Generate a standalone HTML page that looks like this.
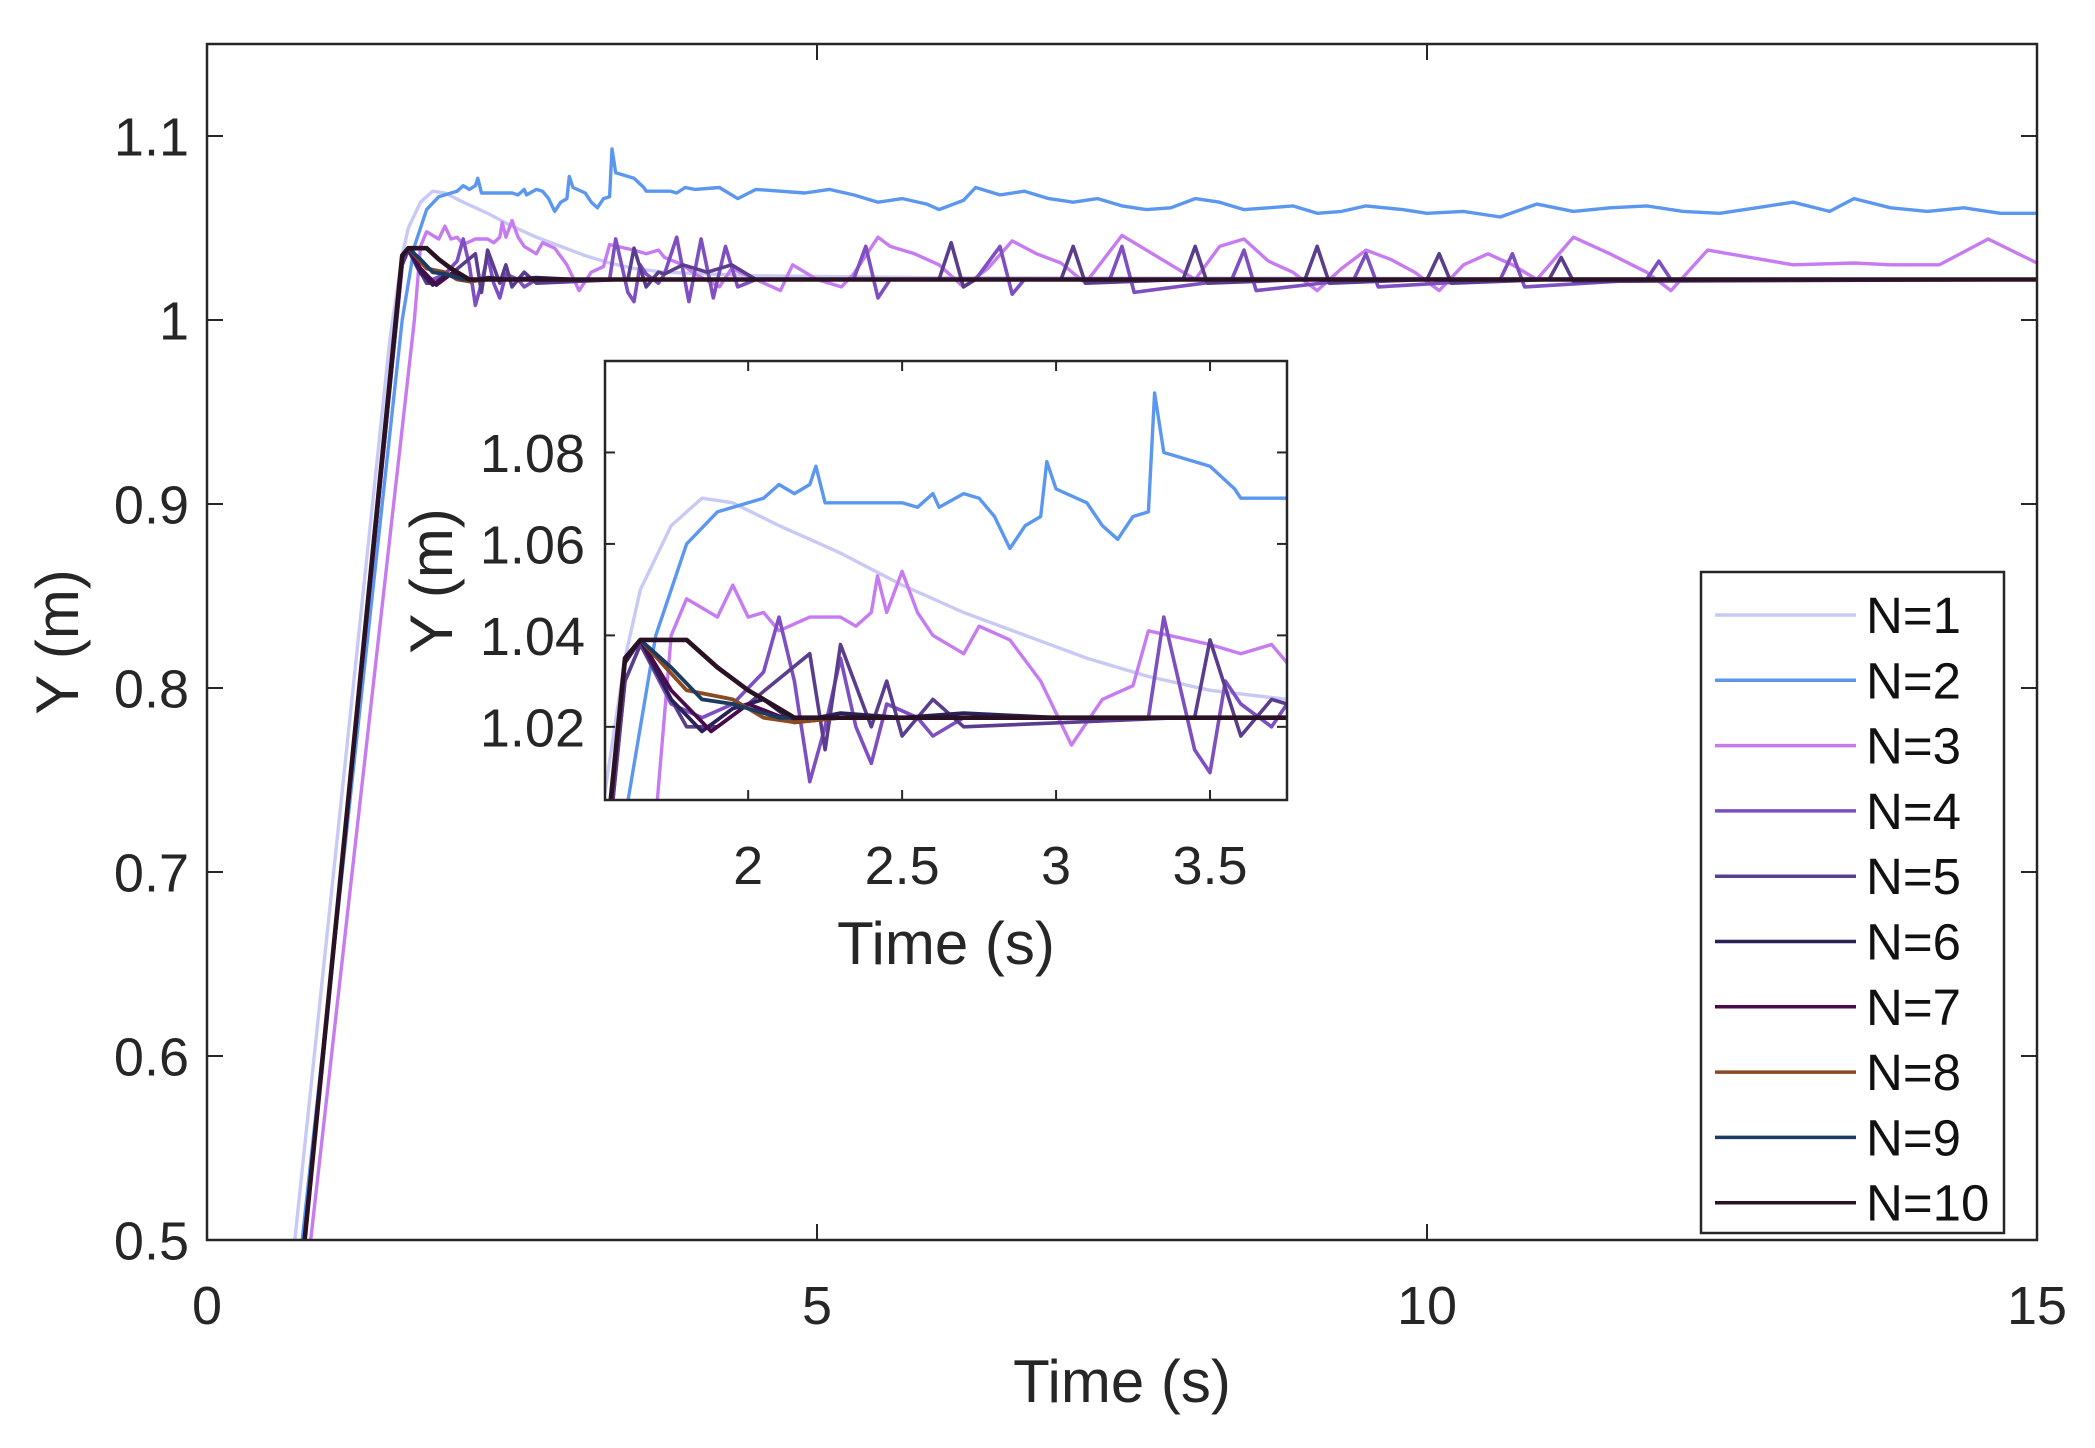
<!DOCTYPE html>
<html><head><meta charset="utf-8"><style>
html,body{margin:0;padding:0;background:#fff;overflow:hidden;width:2095px;height:1448px;}
svg{display:block;font-family:"Liberation Sans",sans-serif;}
</style></head><body>
<svg id="chart" width="2095" height="1448" viewBox="0 0 2095 1448" xmlns="http://www.w3.org/2000/svg">
<defs>
<clipPath id="mainClip"><rect x="207" y="44" width="1830" height="1196"/></clipPath>
<clipPath id="insetClip"><rect x="605" y="361" width="682" height="439"/></clipPath>
</defs>
<rect width="2095" height="1448" fill="#fff"/>
<g id="mainLines" clip-path="url(#mainClip)"></g>
<rect x="207" y="44" width="1830" height="1196" fill="none" stroke="#262626" stroke-width="2.5"/>
<g id="mainTicks"></g>
<text x="1122" y="1402" font-size="60" text-anchor="middle" fill="#262626">Time (s)</text>
<text transform="translate(78,642) rotate(-90)" font-size="60" text-anchor="middle" fill="#262626">Y (m)</text>
<rect x="605" y="361" width="682" height="439" fill="#fff"/>
<g id="insetLines" clip-path="url(#insetClip)"></g>
<rect x="605" y="361" width="682" height="439" fill="none" stroke="#262626" stroke-width="2.5"/>
<g id="insetTicks"></g>
<text x="946" y="964" font-size="60" text-anchor="middle" fill="#262626">Time (s)</text>
<text transform="translate(452,581) rotate(-90)" font-size="60" text-anchor="middle" fill="#262626">Y (m)</text>
<g id="legend">
<rect x="1701" y="572" width="303" height="661" fill="#fff" stroke="#262626" stroke-width="2.5"/>
</g>
</svg>
<script>
const seriesNames = ["N=1","N=2","N=3","N=4","N=5","N=6","N=7","N=8","N=9","N=10"];
const seriesColors = ["#c9c9f5","#5b97ef","#c67cf0","#7e4fc0","#5a3d8c","#2b2159","#4b0b4b","#8a4b22","#1b3b62","#2a1224"];
const seriesWidths = [3.4,3.4,3.4,3.6,3.6,3.8,3.8,3.8,3.8,4.6];
const mainXTicks = [0,5,10,15];
const mainXTickLabels = ["0","5","10","15"];
const mainYTicks = [0.5,0.6,0.7,0.8,0.9,1.0,1.1];
const mainYTickLabels = ["0.5","0.6","0.7","0.8","0.9","1","1.1"];
const insetXTicks = [2,2.5,3,3.5];
const insetXTickLabels = ["2","2.5","3","3.5"];
const insetYTicks = [1.02,1.04,1.06,1.08];
const insetYTickLabels = ["1.02","1.04","1.06","1.08"];

const t1 = [0.72,1.5,1.6,1.65,1.75,1.85,1.95,2.1,2.3,2.5,2.7,2.9,3.1,3.3,3.5,3.75,4.5,6,15];
const y1 = [0.5,0.99,1.035,1.05,1.064,1.07,1.069,1.064,1.058,1.051,1.045,1.04,1.035,1.031,1.028,1.026,1.024,1.023,1.022];
const t2 = [0.78,1.6,1.7,1.8,1.9,2.0,2.05,2.1,2.15,2.2,2.22,2.25,2.35,2.5,2.55,2.6,2.62,2.7,2.75,2.8,2.85,2.9,2.95,2.97,3.0,3.1,3.15,3.2,3.25,3.3,3.32,3.35,3.5,3.58,3.6,3.8,3.85,3.92,4.0,4.2,4.35,4.5,4.7,4.9,5.1,5.3,5.5,5.7,5.9,6.0,6.2,6.3,6.5,6.7,6.9,7.1,7.3,7.5,7.7,7.9,8.1,8.3,8.5,8.7,8.9,9.1,9.3,9.5,9.8,10.0,10.3,10.6,10.9,11.2,11.5,11.8,12.1,12.4,12.7,13.0,13.3,13.5,13.8,14.1,14.4,14.7,15.0];
const y2 = [0.5,1.0,1.04,1.06,1.067,1.069,1.07,1.073,1.071,1.073,1.077,1.069,1.069,1.069,1.068,1.071,1.068,1.071,1.07,1.066,1.059,1.064,1.066,1.078,1.072,1.069,1.064,1.061,1.066,1.067,1.093,1.08,1.077,1.072,1.07,1.07,1.069,1.072,1.071,1.072,1.066,1.071,1.07,1.069,1.071,1.068,1.064,1.066,1.063,1.06,1.065,1.072,1.068,1.07,1.066,1.064,1.066,1.062,1.06,1.061,1.066,1.064,1.06,1.061,1.062,1.058,1.059,1.062,1.06,1.058,1.059,1.056,1.063,1.059,1.061,1.062,1.059,1.058,1.061,1.064,1.059,1.066,1.061,1.059,1.061,1.058,1.058];
const t3 = [0.85,1.7,1.75,1.8,1.85,1.9,1.95,2.0,2.05,2.1,2.2,2.3,2.35,2.4,2.42,2.45,2.5,2.55,2.6,2.7,2.75,2.85,2.95,3.05,3.15,3.25,3.3,3.5,3.6,3.7,3.75,3.9,4.0,4.2,4.3,4.5,4.7,4.8,5.0,5.2,5.3,5.5,5.6,5.8,6.0,6.2,6.4,6.6,6.8,7.0,7.2,7.5,7.7,7.9,8.1,8.3,8.5,8.7,8.9,9.1,9.3,9.5,9.7,9.9,10.1,10.3,10.5,10.7,10.9,11.2,11.5,11.8,12.0,12.3,13.0,13.5,13.8,14.2,14.6,15.0];
const y3 = [0.5,1.0,1.04,1.048,1.046,1.044,1.051,1.044,1.045,1.041,1.044,1.044,1.042,1.045,1.053,1.045,1.054,1.045,1.04,1.036,1.042,1.039,1.03,1.016,1.026,1.029,1.041,1.038,1.036,1.038,1.034,1.03,1.025,1.018,1.028,1.022,1.016,1.03,1.022,1.018,1.025,1.045,1.04,1.036,1.03,1.018,1.028,1.043,1.036,1.031,1.02,1.046,1.038,1.03,1.022,1.04,1.044,1.032,1.026,1.016,1.028,1.038,1.033,1.026,1.016,1.03,1.036,1.03,1.022,1.045,1.036,1.026,1.016,1.038,1.03,1.031,1.03,1.03,1.044,1.031];
const t4 = [0.8,1.6,1.65,1.75,1.85,1.95,2.05,2.1,2.15,2.2,2.25,2.3,2.35,2.4,2.45,2.55,2.6,2.7,3.3,3.35,3.45,3.5,3.55,3.6,3.7,3.75,3.85,3.95,4.05,4.15,4.25,4.35,4.5,5.0,5.3,5.4,5.5,5.6,5.8,6.3,6.5,6.6,6.7,7.4,7.5,7.6,8.4,8.5,8.6,9.4,9.5,9.6,10.6,10.7,10.8,11.8,11.9,12.0,15.0];
const y4 = [0.5,1.03,1.038,1.025,1.022,1.025,1.032,1.044,1.03,1.008,1.02,1.035,1.02,1.012,1.025,1.022,1.018,1.022,1.022,1.044,1.015,1.01,1.03,1.025,1.02,1.025,1.045,1.01,1.044,1.012,1.04,1.018,1.022,1.022,1.022,1.04,1.012,1.022,1.022,1.022,1.04,1.014,1.022,1.022,1.04,1.015,1.022,1.038,1.016,1.022,1.036,1.018,1.022,1.036,1.018,1.022,1.032,1.022,1.022];
const t5 = [0.8,1.6,1.65,1.8,1.9,2.0,2.2,2.25,2.3,2.4,2.45,2.5,2.6,2.7,3.4,3.45,3.5,3.6,3.7,3.75,3.9,4.1,4.3,4.5,6.0,6.1,6.2,6.3,7.0,7.1,7.2,8.0,8.1,8.2,9.0,9.1,9.2,10.0,10.1,10.2,11.0,11.1,11.2,15.0];
const y5 = [0.5,1.03,1.038,1.02,1.02,1.025,1.036,1.015,1.038,1.02,1.03,1.018,1.026,1.02,1.022,1.022,1.039,1.018,1.026,1.025,1.03,1.026,1.03,1.022,1.022,1.042,1.018,1.022,1.022,1.04,1.02,1.022,1.04,1.02,1.022,1.04,1.02,1.022,1.036,1.02,1.022,1.034,1.021,1.022];
const t6 = [0.8,1.6,1.65,1.75,1.85,1.95,2.05,2.15,2.3,2.5,2.7,3.0,15.0];
const y6 = [0.5,1.034,1.039,1.026,1.019,1.024,1.026,1.021,1.023,1.022,1.023,1.022,1.022];
const t7 = [0.8,1.6,1.65,1.75,1.88,2.0,2.15,2.3,2.6,15.0];
const y7 = [0.5,1.035,1.039,1.028,1.019,1.025,1.021,1.022,1.022,1.022];
const t8 = [0.8,1.6,1.65,1.8,1.95,2.05,2.15,2.3,15.0];
const y8 = [0.5,1.035,1.039,1.028,1.026,1.022,1.021,1.022,1.022];
const t9 = [0.8,1.6,1.65,1.75,1.85,1.95,2.1,2.2,2.4,15.0];
const y9 = [0.5,1.035,1.039,1.033,1.026,1.025,1.022,1.022,1.022,1.022];
const t10 = [0.8,1.6,1.65,1.8,1.9,2.0,2.1,2.15,2.3,15.0];
const y10 = [0.5,1.035,1.039,1.039,1.033,1.028,1.024,1.022,1.022,1.022];
const allT = [t1,t2,t3,t4,t5,t6,t7,t8,t9,t10];
const allY = [y1,y2,y3,y4,y5,y6,y7,y8,y9,y10];

const NS = "http://www.w3.org/2000/svg";
const M = {x0:207,x1:2037,y0:1240,y1:44,tmin:0,tmax:15,vmin:0.5,vmax:1.15};
const I = {x0:605,x1:1287,y0:800,y1:361,tmin:1.535,tmax:3.75,vmin:1.004,vmax:1.1};
function sx(ax,t){return ax.x0+(t-ax.tmin)/(ax.tmax-ax.tmin)*(ax.x1-ax.x0);}
function sy(ax,v){return ax.y0-(v-ax.vmin)/(ax.vmax-ax.vmin)*(ax.y0-ax.y1);}
function mk(tag,parent,attrs){const e=document.createElementNS(NS,tag);for(const k in attrs)e.setAttribute(k,attrs[k]);parent.appendChild(e);return e;}

function drawLines(ax,gid,scale){
  const g=document.getElementById(gid);
  for(let i=0;i<allT.length;i++){
    let d="";
    for(let j=0;j<allT[i].length;j++){d+=(j?"L":"M")+sx(ax,allT[i][j]).toFixed(1)+","+sy(ax,allY[i][j]).toFixed(1);}
    const p=mk("path",g,{d:d,fill:"none",stroke:seriesColors[i],"stroke-width":seriesWidths[i]*scale,"stroke-linejoin":"round"});
    
    
  }
}
drawLines(M,"mainLines",1);
drawLines(I,"insetLines",1);

function drawTicks(ax,gid,xt,xl,yt,yl,fs,xlabY,ylabX,len){
  const g=document.getElementById(gid);
  xt.forEach((t,i)=>{
    const x=sx(ax,t);
    mk("line",g,{x1:x,y1:ax.y0,x2:x,y2:ax.y0-len,stroke:"#262626","stroke-width":2});
    mk("line",g,{x1:x,y1:ax.y1,x2:x,y2:ax.y1+len,stroke:"#262626","stroke-width":2});
    const tx=mk("text",g,{x:x,y:xlabY,"font-size":fs,"text-anchor":"middle",fill:"#262626"});
    tx.textContent=xl[i];
    
    
  });
  yt.forEach((v,i)=>{
    const y=sy(ax,v);
    mk("line",g,{x1:ax.x0,y1:y,x2:ax.x0+len,y2:y,stroke:"#262626","stroke-width":2});
    mk("line",g,{x1:ax.x1,y1:y,x2:ax.x1-len,y2:y,stroke:"#262626","stroke-width":2});
    const tx=mk("text",g,{x:ylabX,y:y+fs*0.36,"font-size":fs,"text-anchor":"end",fill:"#262626"});
    tx.textContent=yl[i];
    
    
  });
}
drawTicks(M,"mainTicks",mainXTicks,mainXTickLabels,mainYTicks,mainYTickLabels,54,1324,189,16);
drawTicks(I,"insetTicks",insetXTicks,insetXTickLabels,insetYTicks,insetYTickLabels,54,884,585,10);

const lg=document.getElementById("legend");
seriesNames.forEach((n,i)=>{
  const y=615+i*65.3;
  const ln=mk("line",lg,{x1:1715,y1:y,x2:1856,y2:y,stroke:seriesColors[i],"stroke-width":3.5});
  
  
  const tx=mk("text",lg,{x:1866,y:y+18,"font-size":51,fill:"#111"});
  tx.textContent=n;
  
  
});
</script>
</body></html>
